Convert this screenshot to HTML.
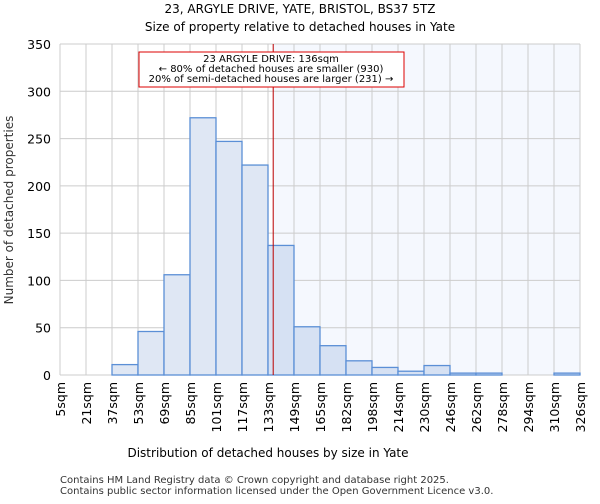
<!DOCTYPE html>
<html><head><meta charset="utf-8"><style>
body{margin:0;background:#fff;font-family:"DejaVu Sans","Liberation Sans",sans-serif}
</style></head><body>
<svg width="600" height="500" xmlns="http://www.w3.org/2000/svg" font-family="DejaVu Sans, Liberation Sans, sans-serif">
<text x="300" y="13" text-anchor="middle" font-size="12">23, ARGYLE DRIVE, YATE, BRISTOL, BS37 5TZ</text>
<text x="300" y="31" text-anchor="middle" font-size="12">Size of property relative to detached houses in Yate</text>
<g id="plot"></g>
<text x="268" y="457" text-anchor="middle" font-size="12">Distribution of detached houses by size in Yate</text>
<text transform="translate(13,210) rotate(-90)" text-anchor="middle" font-size="12" fill="#333">Number of detached properties</text>
<text x="60" y="483" font-size="10" fill="#333">Contains HM Land Registry data © Crown copyright and database right 2025.</text>
<text x="60" y="494" font-size="10" fill="#333">Contains public sector information licensed under the Open Government Licence v3.0.</text>
</svg>
<script>
const categories=["5sqm","21sqm","37sqm","53sqm","69sqm","85sqm","101sqm","117sqm","133sqm","149sqm","165sqm","182sqm","198sqm","214sqm","230sqm","246sqm","262sqm","278sqm","294sqm","310sqm","326sqm"];
const counts=[0,0,11,46,106,272,247,222,137,51,31,15,8,4,10,2,2,0,0,2];
const yTicks=[0,50,100,150,200,250,300,350];
const markerBin=8.2;
const NS="http://www.w3.org/2000/svg";
const L=60,R=580,T=44,B=375,yMax=350;
const bw=(R-L)/counts.length;
const x=i=>L+i*bw;
const y=v=>B-(v/yMax)*(B-T);
const g=document.getElementById('plot');
function mk(t,a){const e=document.createElementNS(NS,t);for(const k in a)e.setAttribute(k,a[k]);g.appendChild(e);return e;}
const mx=x(markerBin);
let e=mk('rect',{x:mx,y:T,width:R-mx,height:B-T,fill:'#f5f8fe'});


for(let i=0;i<categories.length;i++){e=mk('line',{x1:x(i),x2:x(i),y1:T,y2:B,stroke:'#ccc','stroke-width':1});

}
yTicks.forEach(t=>{e=mk('line',{x1:L,x2:R,y1:y(t),y2:y(t),stroke:'#ccc','stroke-width':1});


e=mk('text',{x:L-9,y:y(t)+5,'text-anchor':'end','font-size':12.5});e.textContent=t;

});
counts.forEach((v,i)=>{if(v<=0)return;e=mk('rect',{x:x(i),y:y(v),width:bw,height:B-y(v),fill:i>=8?'#d6e1f3':'#dfe7f4',stroke:'#5b8fd6','stroke-width':1.3});

});
categories.forEach((c,i)=>{e=mk('text',{transform:`translate(${x(i)+5},382) rotate(-90)`,'text-anchor':'end','font-size':12.5});e.textContent=c;

});
e=mk('line',{x1:mx,x2:mx,y1:T,y2:B,stroke:'#b00','stroke-width':1});


e=mk('rect',{x:139,y:52,width:265,height:35,fill:'#fff',stroke:'#d00','stroke-width':1});


["23 ARGYLE DRIVE: 136sqm","← 80% of detached houses are smaller (930)","20% of semi-detached houses are larger (231) →"].forEach((s,k)=>{e=mk('text',{x:271,y:62+k*10,'text-anchor':'middle','font-size':10});e.textContent=s;

});
</script>
</body></html>
